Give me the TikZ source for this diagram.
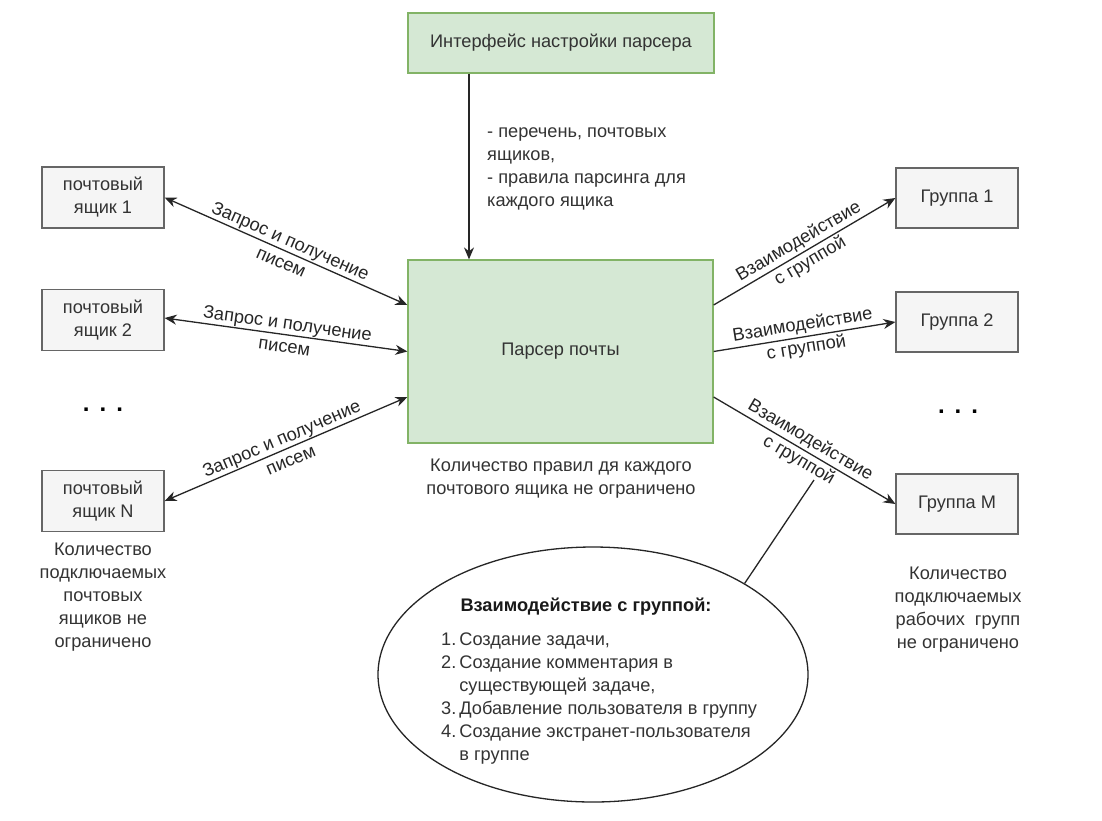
\documentclass[tikz,border=0pt]{standalone}
\usepackage{fontspec}
\setmainfont{Liberation Sans}
\usetikzlibrary{arrows.meta,shapes.geometric}
\definecolor{gfill}{HTML}{D5E8D4}
\definecolor{gline}{HTML}{82B366}
\definecolor{bfill}{HTML}{F5F5F5}
\definecolor{bline}{HTML}{666666}
\definecolor{txt}{HTML}{333333}
\tikzset{
  every node/.style={font=\fontsize{18.2}{23}\selectfont, text=txt},
  greenbox/.style={draw=gline, fill=gfill, line width=1.2pt, inner sep=0pt, align=center},
  graybox/.style={draw=bline, fill=bfill, line width=1.2pt, inner sep=0pt, align=center,
     minimum width=122pt, minimum height=61pt},
  arr/.style={-{Stealth[length=12pt,width=10pt]}, line width=1.3pt, draw=black!85},
  darr/.style={{Stealth[length=12pt,width=10pt]}-{Stealth[length=12pt,width=10pt]}, line width=1.3pt, draw=black!85},
  lbl/.style={midway, sloped, align=center, inner sep=1pt, text=black!85},
  note/.style={align=center, inner sep=0pt},
  dotsrow/.style={font=\fontsize{24}{23}\selectfont\bfseries, text=black},
}
\begin{document}
\begin{tikzpicture}[x=1pt,y=-1pt]
\useasboundingbox (0,0) rectangle (1102,820);
\fill[white] (0,0) rectangle (1102,820);

\node[greenbox, minimum width=306pt, minimum height=60pt] (top) at (561,43) {Интерфейс настройки парсера};
\node[greenbox, minimum width=305pt, minimum height=183pt] (parser) at (560.5,351.5) {Парсер почты};

\node[graybox] (mb1) at (103,197.5) {почтовый\\ящик 1};
\node[graybox] (mb2) at (103,320) {почтовый\\ящик 2};
\node[graybox] (mbN) at (103,501) {почтовый\\ящик N};

\node[graybox, minimum height=60pt] (g1) at (957,198) {Группа 1};
\node[graybox, minimum height=60pt] (g2) at (957,322) {Группа 2};
\node[graybox, minimum height=60pt] (gM) at (957,504) {Группа M};

\node[dotsrow] (dotsL) at (103,410) {.\hspace{10pt}.\hspace{10pt}.};
\node[dotsrow] (dotsR) at (958,412) {.\hspace{10pt}.\hspace{10pt}.};

% top arrow
\draw[arr] ([xshift=-92pt]top.south) -- ([xshift=-91.5pt]parser.north);
\node[anchor=north west, align=left, inner sep=0pt, text=txt] (rules) at (487,127)
  {- перечень, почтовых\\ящиков,\\- правила парсинга для\\каждого ящика};

% left arrows
\draw[darr] (mb1.east) -- node[lbl] {Запрос и получение\\писем} ([yshift=46.5pt]parser.west);
\draw[darr] ([yshift=2pt]mb2.east) -- node[lbl] {Запрос и получение\\писем} (parser.west);
\draw[darr] (mbN.east) -- node[lbl] {Запрос и получение\\писем} ([yshift=-45.5pt]parser.west);

% right arrows
\draw[arr] ([yshift=46.5pt]parser.east) -- node[lbl] {Взаимодействие\\с группой} (g1.west);
\draw[arr] (parser.east) -- node[lbl] {Взаимодействие\\с группой} (g2.west);
\draw[arr] ([yshift=-45.5pt]parser.east) -- node[lbl] {Взаимодействие\\с группой} (gM.west);

% notes
\node[note] (nparser) at (561,479) {Количество правил дя каждого\\почтового ящика не ограничено};
\node[note, anchor=north] (nmail) at (103,543) {Количество\\подключаемых\\почтовых\\ящиков не\\ограничено};
\node[note, anchor=north] (ngroup) at (958,567) {Количество\\подключаемых\\рабочих\ \ групп\\не ограничено};

% ellipse
\node[ellipse, draw=black!85, line width=1.3pt, minimum width=430pt, minimum height=255pt, inner sep=0pt] (ell) at (593,674.5) {};
\coordinate (tip) at (814,480);
\draw[line width=1.3pt, draw=black!85] (ell.31) -- (tip);
\node[font=\fontsize{18.2}{23}\selectfont\bfseries, text=black!90] (etitle) at (586,607) {Взаимодействие с группой:};
\node[anchor=north west, inner sep=0pt] (elist) at (441,629)
 {\begin{tabular}{@{}r@{\hspace{3pt}}l@{}}
  1. & Создание задачи,\\
  2. & Создание комментария в\\
     & существующей задаче,\\
  3. & Добавление пользователя в группу\\
  4. & Создание экстранет-пользователя\\
     & в группе
 \end{tabular}};
\end{tikzpicture}
\end{document}
